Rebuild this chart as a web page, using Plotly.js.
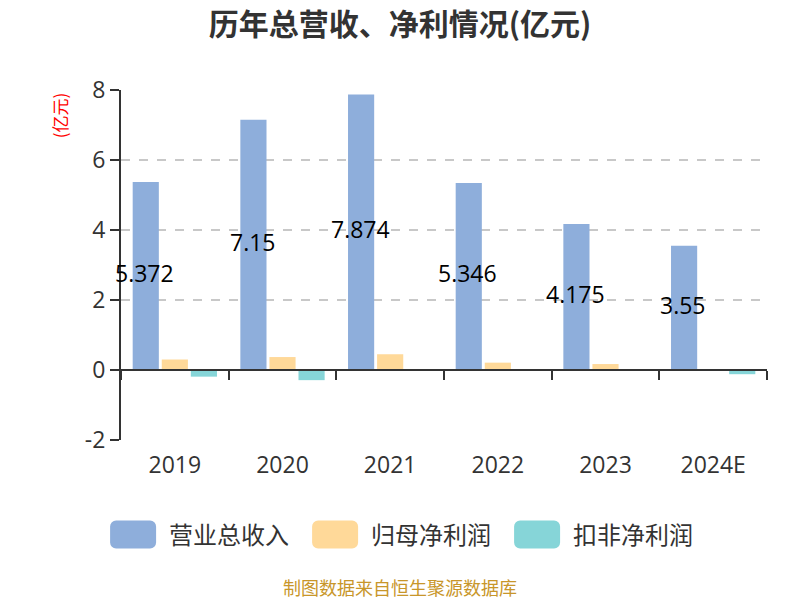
<!DOCTYPE html>
<html>
<head>
<meta charset="utf-8">
<script src="https://cdn.plot.ly/plotly-3.0.1.min.js"></script>
<style>html,body{margin:0;padding:0;background:#fff;}#chart{width:800px;height:600px;}</style>
</head>
<body>
<div id="chart"></div>
<script>
var years = ['2019', '2020', '2021', '2022', '2023', '2024E'];
var revenue = [5.372, 7.15, 7.874, 5.346, 4.175, 3.55];
var netProfit = [0.30, 0.37, 0.45, 0.21, 0.17, 0.02];
var deductedProfit = [-0.19, -0.29, -0.01, -0.01, -0.02, -0.12];
var seriesNames = ['营业总收入', '归母净利润', '扣非净利润'];
var yTickVals = [-2, 0, 2, 4, 6, 8];
var yTickText = ['-2', '0', '2', '4', '6', '8'];

var NUMFONT = '"Open Sans", "Noto Sans CJK SC", sans-serif';
var CJKFONT = '"Noto Sans CJK SC", "Noto Sans", sans-serif';
var colors = ['#8eaedb', '#ffd999', '#86d5d8'];

var traces = [
  {type: 'bar', x: years, y: revenue, name: seriesNames[0], marker: {color: colors[0]}, hoverinfo: 'y'},
  {type: 'bar', x: years, y: netProfit, name: seriesNames[1], marker: {color: colors[1]}, hoverinfo: 'y'},
  {type: 'bar', x: years, y: deductedProfit, name: seriesNames[2], marker: {color: colors[2]}, hoverinfo: 'y'},
  {type: 'scatter', x: years, y: revenue, xaxis: 'x2', mode: 'markers', marker: {opacity: 0}, showlegend: false, hoverinfo: 'skip'}
];

var annotations = revenue.map(function (v, i) {
  return {x: i, y: v / 2, xref: 'x', yref: 'y', text: String(v), showarrow: false,
    xshift: -30, yshift: 3, font: {family: NUMFONT, size: 23, color: '#000'}};
});
annotations.push({xref: 'paper', yref: 'paper', x: -0.095, y: 0.998, text: '(亿元)', textangle: -90,
  showarrow: false, xanchor: 'center', yanchor: 'top', font: {family: CJKFONT, size: 17, color: '#ff0000'}});
annotations.push({xref: 'paper', yref: 'paper', x: 0.432, y: -0.42, text: '制图数据来自恒生聚源数据库',
  showarrow: false, xanchor: 'center', yanchor: 'middle', font: {family: CJKFONT, size: 18, color: '#c8962a'}});

var layout = {
  width: 800, height: 600,
  margin: {l: 121, r: 33, t: 90, b: 160},
  paper_bgcolor: '#fff', plot_bgcolor: '#fff',
  font: {family: NUMFONT, color: '#333'},
  title: {text: '<b>历年总营收、净利情况(亿元)</b>', x: 0.5, xanchor: 'center', y: 0.96, yanchor: 'middle',
    font: {family: CJKFONT, size: 30, color: '#333'}},
  barmode: 'group', bargap: 0.19, bargroupgap: 0.1,
  xaxis: {type: 'category', range: [-0.5, 5.5], anchor: 'y', showline: false, ticks: '', ticklabelstandoff: 9,
    showgrid: false, zeroline: false, tickfont: {family: NUMFONT, size: 23, color: '#333'}, fixedrange: true},
  xaxis2: {type: 'category', range: [-0.5, 5.5], overlaying: 'x', anchor: 'free', position: 0.2, side: 'bottom',
    showline: true, linecolor: '#333', linewidth: 2,
    ticks: 'outside', tickson: 'boundaries', ticklen: 9, tickwidth: 2, tickcolor: '#333',
    showticklabels: false, showgrid: false, zeroline: false, fixedrange: true},
  yaxis: {range: [-2, 8], tickvals: yTickVals, ticktext: yTickText, showline: true, linecolor: '#333', linewidth: 2,
    ticks: 'outside', ticklen: 9, tickwidth: 2, tickcolor: '#333',
    showgrid: true, gridcolor: '#c8c8c8', griddash: 'dash', gridwidth: 1.5, zeroline: false,
    tickfont: {family: NUMFONT, size: 23, color: '#333'}, fixedrange: true},
  legend: {orientation: 'h', x: 0.4243, xanchor: 'center', y: -0.271, yanchor: 'middle',
    font: {family: CJKFONT, size: 24, color: '#333'}, itemwidth: 67, tracegroupgap: 0},
  annotations: annotations,
  showlegend: true
};

function roundRectPath(cx, w, h, r) {
  var l = cx - w / 2, rt = cx + w / 2, t = -h / 2, b = h / 2;
  return 'M' + (l + r) + ',' + t + 'H' + (rt - r) +
    'A' + r + ',' + r + ' 0 0 1 ' + rt + ',' + (t + r) + 'V' + (b - r) +
    'A' + r + ',' + r + ' 0 0 1 ' + (rt - r) + ',' + b + 'H' + (l + r) +
    'A' + r + ',' + r + ' 0 0 1 ' + l + ',' + (b - r) + 'V' + (t + r) +
    'A' + r + ',' + r + ' 0 0 1 ' + (l + r) + ',' + t + 'Z';
}

function bigLegendSymbols() {
  var d = roundRectPath(2.5, 46, 28, 6);
  document.querySelectorAll('#chart .legendpoints path').forEach(function (p) {
    p.setAttribute('d', d);
    p.style.strokeWidth = '0';
  });
}

var gd = document.getElementById('chart');
Plotly.newPlot(gd, traces, layout, {displayModeBar: false, staticPlot: true}).then(function () {
  bigLegendSymbols();
  gd.on('plotly_afterplot', bigLegendSymbols);
  setTimeout(bigLegendSymbols, 0);
  setTimeout(bigLegendSymbols, 100);
});
bigLegendSymbols();
</script>
</body>
</html>
